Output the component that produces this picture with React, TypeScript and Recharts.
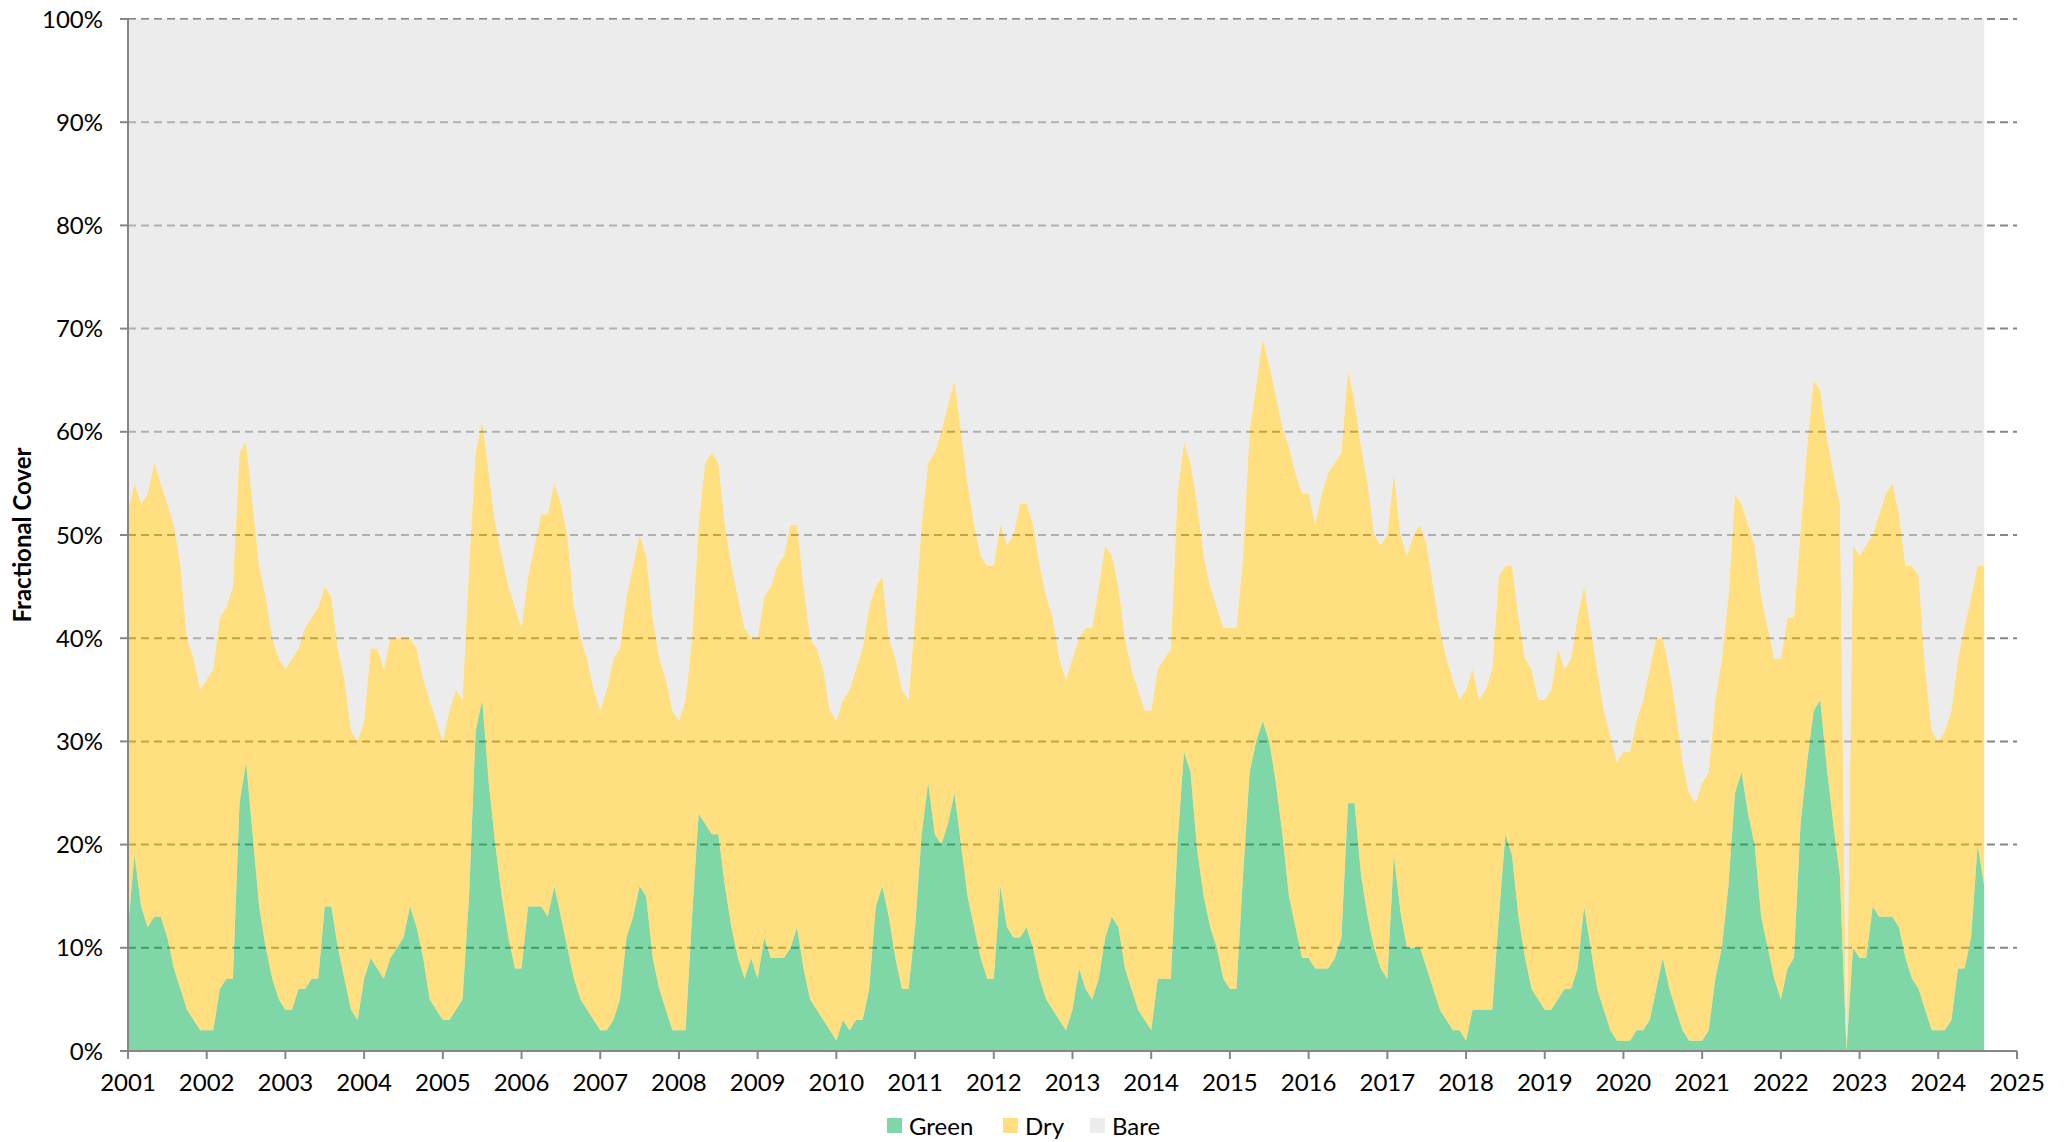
import { AreaChart, Area, XAxis, YAxis, CartesianGrid } from 'recharts'

const startYear = 2001
const yearTicks = [
  2001, 2002, 2003, 2004, 2005, 2006, 2007, 2008, 2009, 2010, 2011, 2012, 2013,
  2014, 2015, 2016, 2017, 2018, 2019, 2020, 2021, 2022, 2023, 2024, 2025,
]
const pctTicks = [0, 10, 20, 30, 40, 50, 60, 70, 80, 90, 100]

// monthly fractional cover (%), Jan 2001 - Aug 2024
const green = [
  12, 19, 14, 12, 13, 13, 11, 8, 6, 4, 3, 2, // 2001
  2, 2, 6, 7, 7, 24, 28, 21, 14, 10, 7, 5, // 2002
  4, 4, 6, 6, 7, 7, 14, 14, 10, 7, 4, 3, // 2003
  7, 9, 8, 7, 9, 10, 11, 14, 12, 9, 5, 4, // 2004
  3, 3, 4, 5, 15, 31, 34, 26, 20, 15, 11, 8, // 2005
  8, 14, 14, 14, 13, 16, 13, 10, 7, 5, 4, 3, // 2006
  2, 2, 3, 5, 11, 13, 16, 15, 9, 6, 4, 2, // 2007
  2, 2, 13, 23, 22, 21, 21, 16, 12, 9, 7, 9, // 2008
  7, 11, 9, 9, 9, 10, 12, 8, 5, 4, 3, 2, // 2009
  1, 3, 2, 3, 3, 6, 14, 16, 13, 9, 6, 6, // 2010
  12, 21, 26, 21, 20, 22, 25, 20, 15, 12, 9, 7, // 2011
  7, 16, 12, 11, 11, 12, 10, 7, 5, 4, 3, 2, // 2012
  4, 8, 6, 5, 7, 11, 13, 12, 8, 6, 4, 3, // 2013
  2, 7, 7, 7, 20, 29, 27, 19.5, 15, 12, 10, 7, // 2014
  6, 6, 17, 27, 30, 32, 30, 26, 21, 15, 12, 9, // 2015
  9, 8, 8, 8, 9, 11, 24, 24, 17, 13, 10, 8, // 2016
  7, 19, 13.5, 10, 10, 10, 8, 6, 4, 3, 2, 2, // 2017
  1, 4, 4, 4, 4, 13, 21, 19, 13, 9, 6, 5, // 2018
  4, 4, 5, 6, 6, 8, 14, 10, 6, 4, 2, 1, // 2019
  1, 1, 2, 2, 3, 6, 9, 6, 4, 2, 1, 1, // 2020
  1, 2, 7, 10, 16, 25, 27, 23, 20, 13, 10, 7, // 2021
  5, 8, 9, 22, 28, 33, 34, 27.5, 22, 17, 0, 10, // 2022
  9, 9, 14, 13, 13, 13, 12, 9, 7, 6, 4, 2, // 2023
  2, 2, 3, 8, 8, 11, 20, 16, // 2024
]

const dry = [
  40.5, 36, 39, 42, 44, 42, 42, 43, 41, 36, 35, 33, // 2001
  34, 35, 36, 36, 38, 34, 31, 32, 33, 34, 33, 33, // 2002
  33, 34, 33, 35, 35, 36, 31, 30, 29, 29, 27, 27, // 2003
  25, 30, 31, 30, 31, 30, 29, 26, 27, 27, 29, 28, // 2004
  27, 30, 31, 29, 32, 27, 27, 30, 31, 33, 34, 35, // 2005
  33, 32, 35, 38, 39, 39, 40, 40, 36, 35, 34, 32, // 2006
  31, 33, 35, 34, 33, 34, 34, 33, 33, 32, 32, 31, // 2007
  30, 32, 27, 28, 35, 37, 36, 35, 35, 35, 34, 31, // 2008
  33, 33, 36, 38, 39, 41, 39, 37, 35, 35, 34, 31, // 2009
  31, 31, 33, 34, 36, 37, 31, 30, 27, 29, 29, 28, // 2010
  30, 30, 31, 37, 40, 40.5, 40, 40, 40, 39, 39, 40, // 2011
  40, 35, 37, 39, 42, 41, 41, 40, 39, 38, 35, 34, // 2012
  34, 32, 35, 36, 38, 38, 35, 33, 32, 31, 31, 30, // 2013
  31, 30, 31, 32, 34, 30, 30, 33.5, 33, 33, 33, 34, // 2014
  35, 35, 31, 33, 34.5, 37, 36.5, 37.5, 39.5, 43.5, 44, 45, // 2015
  45, 43, 46, 48, 48, 47, 42, 39, 41.5, 42, 40, 41, // 2016
  43, 37, 36.5, 38, 40, 41, 41, 39, 37, 35, 34, 32, // 2017
  34, 33, 30, 31, 33, 33, 26, 28, 29, 29, 31, 29, // 2018
  30, 31, 34, 31, 32, 34, 31, 31, 31, 29, 28.5, 27, // 2019
  28, 28, 30, 32, 34, 34, 31, 31, 29, 26, 24, 23, // 2020
  25, 25, 27, 28, 28, 29, 26, 28, 29, 31, 31, 31, // 2021
  33, 34, 33, 28.5, 30.5, 32, 30, 32, 34, 36, 0, 39, // 2022
  39, 40, 36, 39, 41, 42, 40, 38, 40, 40, 33, 29, // 2023
  28, 29, 30, 30, 33, 33, 27, 31, // 2024
]

const series = [
  { key: 'Green', color: '#00B050' },
  { key: 'Dry', color: '#FFC000' },
  { key: 'Bare', color: '#D9D9D9' },
]

// bare ground is whatever is left of the pixel
const data = green.map((g, i) => ({
  t: startYear + i / 12,
  Green: g,
  Dry: dry[i],
  Bare: Math.max(0, 100 - g - dry[i]),
}))

const font = 'Lato, "Open Sans", sans-serif'
const axisGray = '#868686'
const textSize = 24

function ChartLegend() {
  const lefts = [887, 1003, 1090]
  return (
    <>
      {series.map((s, i) => (
        <div
          key={s.key}
          style={{
            position: 'absolute',
            left: lefts[i],
            top: 1110,
            height: 31,
            display: 'flex',
            alignItems: 'center',
            fontSize: textSize,
            color: '#000',
          }}
        >
          <span
            style={{
              width: 15,
              height: 15,
              marginRight: 7,
              background: s.color,
              opacity: 0.5,
            }}
          />
          {s.key}
        </div>
      ))}
    </>
  )
}

export default function App() {
  return (
    <div
      style={{
        position: 'absolute',
        left: 0,
        top: 0,
        width: 2071,
        height: 1142,
        background: '#fff',
        fontFamily: font,
      }}
    >
      <AreaChart
        width={2071}
        height={1142}
        data={data}
        margin={{ top: 19, right: 54, bottom: 0, left: 0 }}
      >
        <CartesianGrid
          vertical={false}
          stroke={axisGray}
          strokeWidth={2}
          strokeDasharray="8 5"
        />
        {series.map((s) => (
          <Area
            key={s.key}
            dataKey={s.key}
            name={s.key}
            stackId="cover"
            type="linear"
            fill={s.color}
            fillOpacity={0.5}
            stroke="none"
            dot={false}
            activeDot={false}
            isAnimationActive={false}
          />
        ))}
        <XAxis
          type="number"
          dataKey="t"
          domain={[2001, 2025]}
          ticks={yearTicks}
          interval={0}
          height={91}
          stroke={axisGray}
          strokeWidth={2}
          tickSize={8}
          tickMargin={15}
          tick={{ fill: '#000', fontSize: textSize, fontFamily: font }}
        />
        <YAxis
          type="number"
          domain={[0, 100]}
          ticks={pctTicks}
          interval={0}
          width={128}
          stroke={axisGray}
          strokeWidth={2}
          tickSize={8}
          tickMargin={17}
          tick={{ fill: '#000', fontSize: textSize, fontFamily: font }}
          tickFormatter={(v: number) => `${v}%`}
          label={() => (
            <text
              x={21.5}
              y={535}
              transform="rotate(-90 21.5 535)"
              textAnchor="middle"
              dominantBaseline="central"
              fontSize={textSize}
              fontWeight={700}
              fontFamily={font}
              fill="#000"
            >
              Fractional Cover
            </text>
          )}
        />
      </AreaChart>
      <ChartLegend />
    </div>
  )
}
